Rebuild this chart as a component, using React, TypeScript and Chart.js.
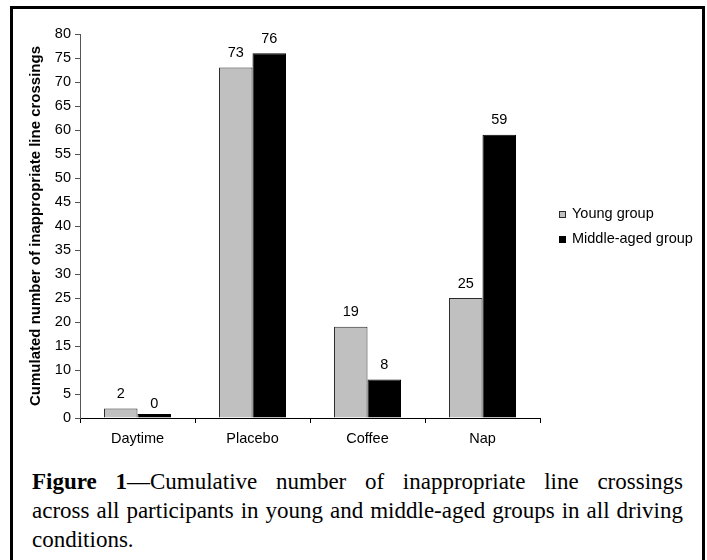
import React, { useEffect, useRef } from "react";
import { Chart, registerables } from "chart.js";

Chart.register(...registerables);

const categories = ["Daytime", "Placebo", "Coffee", "Nap"];
const youngGroup = [2, 73, 19, 25];
const middleAgedGroup = [0, 76, 8, 59];
const seriesNames = ["Young group", "Middle-aged group"];
const yMin = 0;
const yMax = 80;
const yStep = 5;
const yTitle = "Cumulated number of inappropriate line crossings";
const captionBold = "Figure 1";
const captionLine1 = "—Cumulative number of inappropriate line crossings";
const captionLine2 = "across all participants in young and middle-aged groups in all driving";
const captionLine3 = "conditions.";

const SANS = '"Liberation Sans", Arial, sans-serif';
const SERIF = '"Liberation Serif", "Times New Roman", serif';

const valueLabels = {
  id: "valueLabels",
  afterDatasetsDraw(chart: any) {
    const { ctx } = chart;
    const yScale = chart.scales.y;
    ctx.save();
    ctx.font = `14.5px ${SANS}`;
    ctx.fillStyle = "#000";
    ctx.textAlign = "center";
    ctx.textBaseline = "alphabetic";
    chart.data.datasets.forEach((ds: any, i: number) => {
      const meta = chart.getDatasetMeta(i);
      meta.data.forEach((bar: any, j: number) => {
        const v = ds.data[j];
        ctx.fillText(String(v), bar.x, yScale.getPixelForValue(v) - 10.5);
      });
    });
    ctx.restore();
  },
};

const sideLegend = {
  id: "sideLegend",
  afterDraw(chart: any, _args: any, opts: any) {
    const { ctx } = chart;
    ctx.save();
    ctx.font = `14.5px ${SANS}`;
    ctx.textAlign = "left";
    ctx.textBaseline = "alphabetic";
    chart.data.datasets.forEach((ds: any, i: number) => {
      const base = opts.y + i * opts.rowGap;
      ctx.fillStyle = ds.backgroundColor;
      ctx.fillRect(opts.x, base - 7, 7, 7);
      ctx.strokeStyle = ds.borderColor;
      ctx.lineWidth = 1;
      ctx.strokeRect(opts.x + 0.5, base - 6.5, 6, 6);
      ctx.fillStyle = "#000";
      ctx.fillText(ds.label, opts.x + 13, base);
    });
    ctx.restore();
  },
};

export default function App() {
  const canvasRef = useRef<HTMLCanvasElement | null>(null);

  useEffect(() => {
    document.body.style.overflow = "hidden";
    const canvas = canvasRef.current;
    if (!canvas) return;
    const chart = new Chart(canvas, {
      type: "bar",
      data: {
        labels: categories,
        datasets: [
          {
            label: seriesNames[0],
            data: youngGroup,
            backgroundColor: "#c0c0c0",
            borderColor: "#2a2a2a",
            borderWidth: 1,
            categoryPercentage: 0.583,
            barPercentage: 1,
          },
          {
            label: seriesNames[1],
            data: middleAgedGroup,
            backgroundColor: "#000000",
            borderColor: "#000000",
            borderWidth: 1,
            categoryPercentage: 0.583,
            barPercentage: 1,
            minBarLength: 4,
          },
        ],
      },
      options: {
        responsive: false,
        maintainAspectRatio: false,
        animation: false,
        devicePixelRatio: 1,
        layout: { padding: { left: 0, top: 34, right: 167, bottom: 0 } },
        plugins: {
          legend: { display: false },
          tooltip: { enabled: false },
          sideLegend: { x: 559, y: 218, rowGap: 25 },
        } as any,
        scales: {
          x: {
            afterFit(scale: any) {
              scale.height = 42;
            },
            border: { display: true, color: "#000", width: 1 },
            grid: {
              drawOnChartArea: false,
              drawTicks: true,
              tickLength: 5,
              color: "#000",
              offset: true,
            },
            ticks: {
              color: "#000",
              padding: 7,
              font: { family: SANS, size: 14.5 },
            },
          },
          y: {
            min: yMin,
            max: yMax,
            afterFit(scale: any) {
              scale.width = 80;
            },
            border: { display: true, color: "#555", width: 1 },
            grid: {
              drawOnChartArea: false,
              drawTicks: true,
              tickLength: 5,
              color: "#555",
            },
            ticks: {
              stepSize: yStep,
              color: "#000",
              padding: 4,
              font: { family: SANS, size: 14.5 },
            },
            title: {
              display: true,
              text: yTitle,
              color: "#000",
              font: { family: SANS, size: 15, weight: "bold" },
              padding: { top: 27, bottom: 0 },
            },
          },
        },
      },
      plugins: [valueLabels, sideLegend],
    });
    return () => chart.destroy();
  }, []);

  const lineStyle: React.CSSProperties = {
    textAlign: "justify",
    textAlignLast: "justify" as any,
  };

  return (
    <div style={{ position: "absolute", left: 0, top: 0, width: 707, height: 560, overflow: "hidden", background: "#fff" }}>
      <div
        style={{
          position: "absolute",
          left: 10,
          top: 6,
          width: 695,
          height: 554,
          boxSizing: "border-box",
          borderTop: "3px solid #000",
          borderLeft: "3px solid #000",
          borderRight: "3px solid #000",
        }}
      />
      <canvas
        ref={canvasRef}
        width={707}
        height={460}
        style={{ position: "absolute", left: 0, top: 0, width: 707, height: 460 }}
      />
      <div
        style={{
          position: "absolute",
          left: 32,
          top: 467,
          width: 651,
          fontFamily: SERIF,
          fontSize: 23,
          lineHeight: "29px",
          color: "#000",
        }}
      >
        <div style={lineStyle}>
          <b>{captionBold}</b>
          {captionLine1}
        </div>
        <div style={lineStyle}>{captionLine2}</div>
        <div style={{ textAlign: "left" }}>{captionLine3}</div>
      </div>
    </div>
  );
}
